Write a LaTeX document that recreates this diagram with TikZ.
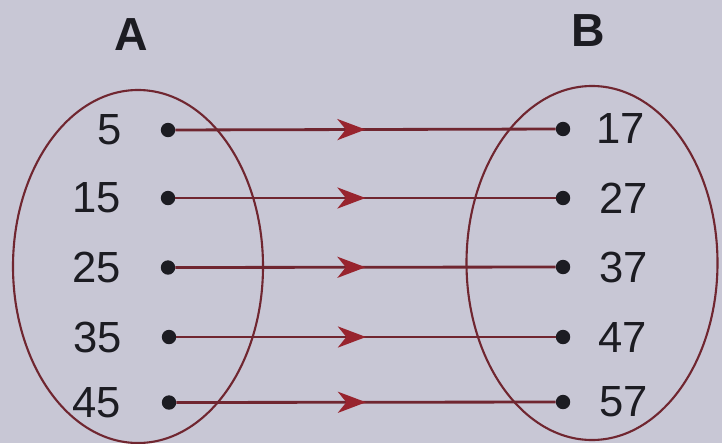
\documentclass[tikz,border=0pt]{standalone}
\usepackage{fontspec}
\setmainfont{Liberation Sans}
\usetikzlibrary{arrows.meta,decorations.markings}
\definecolor{maroon}{RGB}{112,38,48}
\definecolor{arrowred}{RGB}{152,36,46}
\definecolor{paper}{RGB}{200,199,213}
\definecolor{ink}{RGB}{28,28,34}

\begin{document}
\begin{tikzpicture}[x=0.025cm,y=0.025cm,line join=round,
  dot/.style={circle,fill=ink,inner sep=0pt,minimum size=0.36cm},
  num/.style={font=\fontsize{31}{36}\selectfont,text=ink,inner sep=0pt},
  setname/.style={font=\fontsize{33}{38}\selectfont\bfseries,text=ink,inner sep=0pt},
  maplink/.style={maroon,line width=2pt,postaction={decorate},
    decoration={markings,mark=at position 0.5 with
      {\arrow{Stealth[length=20pt,width=15pt,inset=6pt,color=arrowred]}}}}]
\useasboundingbox (0,0) rectangle (722,443);
\fill[paper] (0,0) rectangle (722,443);
% the two sets
\draw[maroon,line width=1.5pt] (138,176.5) ellipse [x radius=125,y radius=176.5];
\draw[maroon,line width=1.5pt] (592,180) ellipse [x radius=125.5,y radius=177];
\node[setname] (A) at (131,408.5) {A};
\node[setname] (B) at (588,412) {B};
% elements of A
\node[dot] (a1) at (168,313) {};
\node[dot] (a2) at (168,245) {};
\node[dot] (a3) at (168,175.5) {};
\node[dot] (a4) at (169,106) {};
\node[dot] (a5) at (169,40.5) {};
\node[num,anchor=east] (la1) at (122,313) {5};
\node[num,anchor=east] (la2) at (121,245) {15};
\node[num,anchor=east] (la3) at (121,175.5) {25};
\node[num,anchor=east] (la4) at (122,106) {35};
\node[num,anchor=east] (la5) at (121,40.5) {45};
% elements of B
\node[dot] (b1) at (563,314) {};
\node[dot] (b2) at (563,245) {};
\node[dot] (b3) at (563,176) {};
\node[dot] (b4) at (563,106) {};
\node[dot] (b5) at (563,41) {};
\node[num,anchor=west] (lb1) at (596,314) {17};
\node[num,anchor=west] (lb2) at (599,245) {27};
\node[num,anchor=west] (lb3) at (599,176) {37};
\node[num,anchor=west] (lb4) at (598,106) {47};
\node[num,anchor=west] (lb5) at (599,41) {57};
% the mapping
\draw[maplink] (a1) -- (b1);
\draw[maplink] (a2) -- (b2);
\draw[maplink] (a3) -- (b3);
\draw[maplink] (a4) -- (b4);
\draw[maplink] (a5) -- (b5);
\end{tikzpicture}
\end{document}
